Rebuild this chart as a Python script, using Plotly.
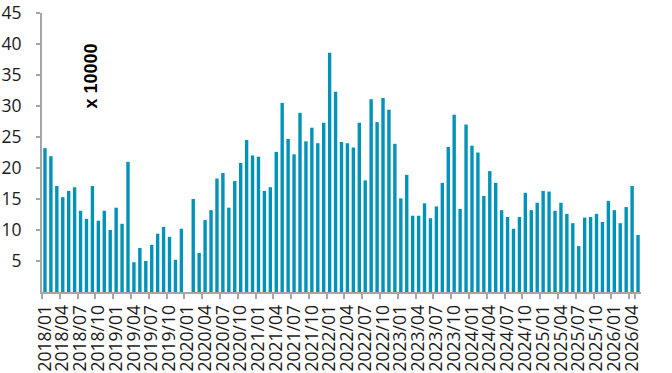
import plotly.graph_objects as go

years = [2018, 2019, 2020, 2021, 2022, 2023, 2024, 2025, 2026]
months = [f"{y}/{m:02d}" for y in years for m in range(1, 13)][:101]

v2018 = [23.2, 21.9, 17.1, 15.3, 16.3, 16.9, 13.1, 11.8, 17.1, 11.5, 13.1, 10.0]
v2019 = [13.6, 11.0, 21.0, 4.8, 7.1, 5.0, 7.6, 9.4, 10.5, 8.9, 5.2, 10.2]
v2020 = [None, 15.0, 6.3, 11.6, 13.2, 18.3, 19.2, 13.6, 17.9, 20.8, 24.5, 22.0]
v2021 = [21.8, 16.3, 16.9, 22.6, 30.5, 24.7, 22.2, 28.9, 24.3, 26.5, 24.0, 27.3]
v2022 = [38.6, 32.3, 24.2, 24.0, 23.3, 27.3, 18.0, 31.1, 27.4, 31.3, 29.4, 23.9]
v2023 = [15.1, 18.9, 12.3, 12.3, 14.3, 11.9, 13.8, 17.6, 23.4, 28.6, 13.4, 27.0]
v2024 = [23.6, 22.5, 15.5, 19.5, 17.6, 13.2, 12.1, 10.2, 12.1, 16.0, 13.2, 14.4]
v2025 = [16.3, 16.2, 13.1, 14.4, 12.6, 11.1, 7.4, 12.0, 12.1, 12.6, 11.3, 14.7]
v2026 = [13.2, 11.1, 13.7, 17.1, 9.2]
values = v2018 + v2019 + v2020 + v2021 + v2022 + v2023 + v2024 + v2025 + v2026

y_ticks = [5, 10, 15, 20, 25, 30, 35, 40, 45]
unit_label = "x 10000"

fig = go.Figure(go.Bar(x=months, y=values, marker_color="#0093BA",
                       marker_line_width=0))

fig.update_layout(
    width=672, height=373,
    margin=dict(l=42, r=31, t=13, b=81, autoexpand=False),
    paper_bgcolor="white", plot_bgcolor="white",
    bargap=0.43,
    showlegend=False,
    font=dict(family="Open Sans", size=17.5, color="#1a1a1a"),
)
fig.update_xaxes(
    type="category", categoryorder="array", categoryarray=months,
    range=[-0.5, len(months) - 0.5],
    tickmode="array", tickvals=months[::3], ticktext=months[::3],
    tickson="boundaries", ticks="outside", ticklen=5, tickwidth=2,
    tickcolor="#A6A6A6", tickangle=-90, ticklabelstandoff=4,
    showline=True, linecolor="#A6A6A6", linewidth=2,
    showgrid=False, zeroline=False, automargin=False,
)
fig.update_yaxes(
    range=[0, 45], tickvals=y_ticks,
    ticks="outside", ticklen=4, tickwidth=2, tickcolor="#A6A6A6",
    showline=True, linecolor="#A6A6A6", linewidth=2,
    showgrid=False, zeroline=False, ticklabelstandoff=11, automargin=False,
)
fig.add_annotation(
    text=unit_label, xref="paper", yref="paper",
    x=(90 - 42) / 599, y=(292 - 76.5) / 279,
    xanchor="center", yanchor="middle",
    showarrow=False, textangle=-90,
    font=dict(family="Liberation Sans", size=18, color="black", weight="bold"),
)

fig.write_html("out.html")
